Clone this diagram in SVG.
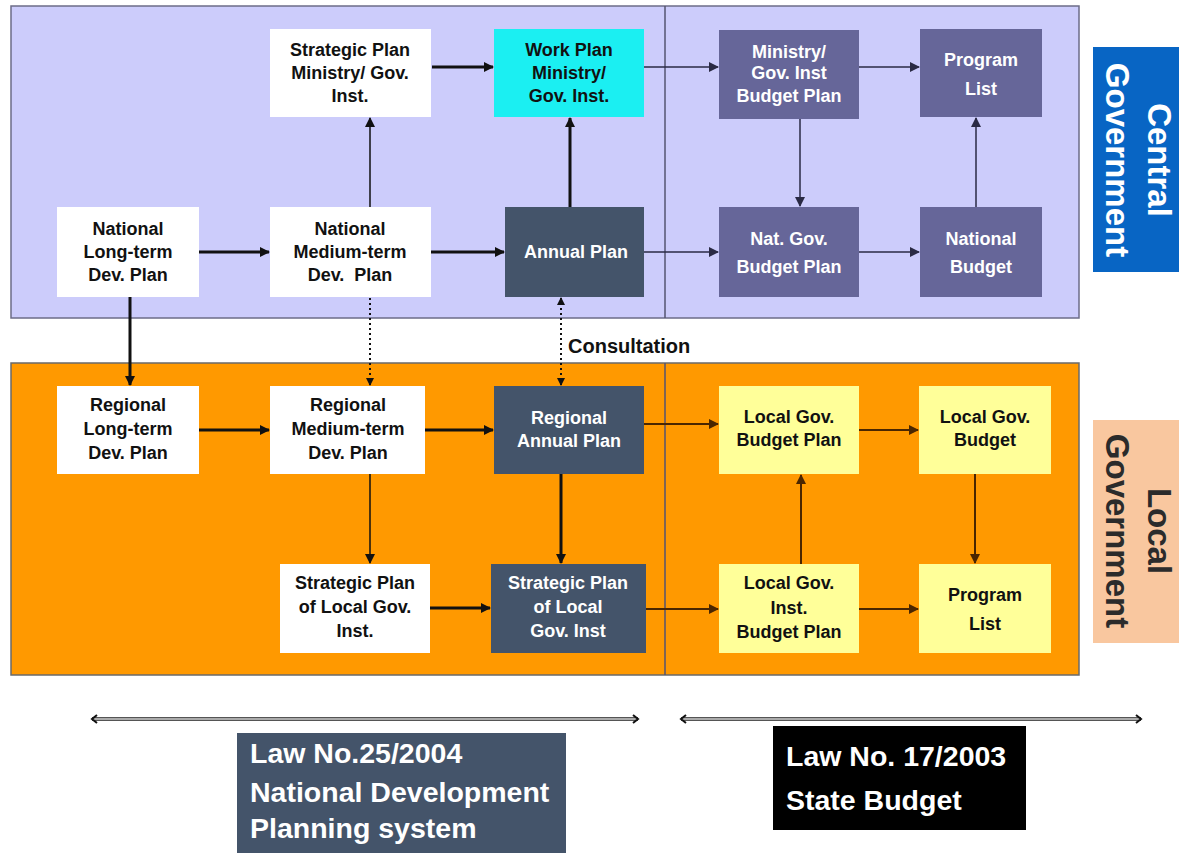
<svg xmlns="http://www.w3.org/2000/svg" width="1179" height="853" viewBox="0 0 1179 853">
  <defs>
    <style>
      .t { font-family: "Liberation Sans", Arial, sans-serif; font-weight: bold; font-size: 18px; text-anchor: middle; }
      .dk { fill: #111; }
      .wt { fill: #ffffff; }
      .big { font-family: "Liberation Sans", Arial, sans-serif; font-weight: bold; font-size: 28.5px; fill: #ffffff; }
      .side { font-family: "Liberation Sans", Arial, sans-serif; font-weight: bold; font-size: 33px; text-anchor: middle; }
      .c-thick { stroke: #111; stroke-width: 3; fill: none; }
      .c-thin { stroke: #111; stroke-width: 1.5; fill: none; }
      .c-top { stroke: #2a2a44; stroke-width: 1.5; fill: none; }
      .c-bot { stroke: #4a2600; stroke-width: 2; fill: none; }
      .c-dot { stroke: #111; stroke-width: 2; stroke-dasharray: 2 3; fill: none; }
    </style>
    <marker id="ah" markerUnits="userSpaceOnUse" markerWidth="10" markerHeight="10" refX="9" refY="5" orient="auto">
      <path d="M0,0 L10,5 L0,10 z" fill="#111"/>
    </marker>
    <marker id="ahTop" markerUnits="userSpaceOnUse" markerWidth="10" markerHeight="10" refX="9" refY="5" orient="auto">
      <path d="M0,0 L10,5 L0,10 z" fill="#2a2a44"/>
    </marker>
    <marker id="ahBot" markerUnits="userSpaceOnUse" markerWidth="10" markerHeight="10" refX="9" refY="5" orient="auto">
      <path d="M0,0 L10,5 L0,10 z" fill="#4a2600"/>
    </marker>
    <marker id="ahDot" markerUnits="userSpaceOnUse" markerWidth="8" markerHeight="8" refX="7" refY="4" orient="auto-start-reverse">
      <path d="M0,0 L8,4 L0,8 z" fill="#111"/>
    </marker>
    <marker id="chev" markerUnits="userSpaceOnUse" markerWidth="8" markerHeight="10" refX="6" refY="5" orient="auto-start-reverse">
      <path d="M1,1 L6,5 L1,9" fill="none" stroke="#111" stroke-width="2"/>
    </marker>
  </defs>

  <rect width="1179" height="853" fill="#ffffff"/>

  <!-- tier panels -->
  <g id="central-panel">
    <rect x="11" y="6" width="1068" height="312" fill="#ccccfb" stroke="#6c6c88" stroke-width="1.5"/>
    <line x1="665" y1="6" x2="665" y2="318" stroke="#555570" stroke-width="1.5"/>
  </g>
  <g id="local-panel">
    <rect x="11" y="363" width="1068" height="312" fill="#ff9900" stroke="#6a6a6a" stroke-width="1.5"/>
    <line x1="665" y1="363" x2="665" y2="675" stroke="#555570" stroke-width="1.5"/>
  </g>

  <!-- side labels -->
  <g id="label-central">
    <rect x="1093" y="47" width="86" height="225" fill="#0865c4"/>
    <g transform="translate(1136,160) rotate(90)">
      <text class="side wt" x="0" y="-12">Central</text>
      <text class="side wt" x="0" y="30">Government</text>
    </g>
  </g>
  <g id="label-local">
    <rect x="1093" y="420" width="86" height="223" fill="#f9c79f"/>
    <g transform="translate(1136,531) rotate(90)">
      <text class="side" fill="#2b2b2b" x="0" y="-12">Local</text>
      <text class="side" fill="#2b2b2b" x="0" y="30">Government</text>
    </g>
  </g>

  <!-- central government nodes -->
  <g id="strategic-plan-ministry">
    <rect x="270" y="29" width="161" height="88" fill="#ffffff"/>
    <text class="t dk" x="350" y="56">Strategic Plan</text>
    <text class="t dk" x="350" y="79">Ministry/ Gov.</text>
    <text class="t dk" x="350" y="102">Inst.</text>
  </g>
  <g id="work-plan">
    <rect x="494" y="29" width="150" height="88" fill="#1beff2"/>
    <text class="t dk" x="569" y="56">Work Plan</text>
    <text class="t dk" x="569" y="79">Ministry/</text>
    <text class="t dk" x="569" y="102">Gov. Inst.</text>
  </g>
  <g id="national-long-term">
    <rect x="57" y="207" width="142" height="90" fill="#ffffff"/>
    <text class="t dk" x="128" y="235">National</text>
    <text class="t dk" x="128" y="258">Long-term</text>
    <text class="t dk" x="128" y="281">Dev. Plan</text>
  </g>
  <g id="national-medium-term">
    <rect x="270" y="207" width="161" height="90" fill="#ffffff"/>
    <text class="t dk" x="350" y="235">National</text>
    <text class="t dk" x="350" y="258">Medium-term</text>
    <text class="t dk" x="350" y="281" xml:space="preserve">Dev.  Plan</text>
  </g>
  <g id="annual-plan">
    <rect x="505" y="207" width="139" height="90" fill="#44546a"/>
    <text class="t wt" x="576" y="258">Annual Plan</text>
  </g>
  <g id="ministry-budget-plan">
    <rect x="719" y="30" width="140" height="89" fill="#666699"/>
    <text class="t wt" x="789" y="58">Ministry/</text>
    <text class="t wt" x="789" y="79">Gov. Inst</text>
    <text class="t wt" x="789" y="102">Budget Plan</text>
  </g>
  <g id="program-list-central">
    <rect x="920" y="29" width="122" height="88" fill="#666699"/>
    <text class="t wt" x="981" y="66">Program</text>
    <text class="t wt" x="981" y="95">List</text>
  </g>
  <g id="nat-gov-budget-plan">
    <rect x="719" y="207" width="140" height="90" fill="#666699"/>
    <text class="t wt" x="789" y="245">Nat. Gov.</text>
    <text class="t wt" x="789" y="273">Budget Plan</text>
  </g>
  <g id="national-budget">
    <rect x="920" y="207" width="122" height="90" fill="#666699"/>
    <text class="t wt" x="981" y="245">National</text>
    <text class="t wt" x="981" y="273">Budget</text>
  </g>

  <!-- local government nodes -->
  <g id="regional-long-term">
    <rect x="57" y="386" width="142" height="88" fill="#ffffff"/>
    <text class="t dk" x="128" y="411">Regional</text>
    <text class="t dk" x="128" y="435">Long-term</text>
    <text class="t dk" x="128" y="459">Dev. Plan</text>
  </g>
  <g id="regional-medium-term">
    <rect x="270" y="386" width="155" height="88" fill="#ffffff"/>
    <text class="t dk" x="348" y="411">Regional</text>
    <text class="t dk" x="348" y="435">Medium-term</text>
    <text class="t dk" x="348" y="459">Dev. Plan</text>
  </g>
  <g id="regional-annual-plan">
    <rect x="494" y="386" width="150" height="88" fill="#44546a"/>
    <text class="t wt" x="569" y="424">Regional</text>
    <text class="t wt" x="569" y="447">Annual Plan</text>
  </g>
  <g id="strategic-plan-local-inst">
    <rect x="280" y="564" width="150" height="89" fill="#ffffff"/>
    <text class="t dk" x="355" y="589">Strategic Plan</text>
    <text class="t dk" x="355" y="613">of Local Gov.</text>
    <text class="t dk" x="355" y="637">Inst.</text>
  </g>
  <g id="strategic-plan-local-gov">
    <rect x="491" y="564" width="155" height="89" fill="#44546a"/>
    <text class="t wt" x="568" y="589">Strategic Plan</text>
    <text class="t wt" x="568" y="613">of Local</text>
    <text class="t wt" x="568" y="637">Gov. Inst</text>
  </g>
  <g id="local-gov-budget-plan">
    <rect x="719" y="386" width="140" height="88" fill="#ffff99"/>
    <text class="t dk" x="789" y="423">Local Gov.</text>
    <text class="t dk" x="789" y="446">Budget Plan</text>
  </g>
  <g id="local-gov-budget">
    <rect x="919" y="386" width="132" height="88" fill="#ffff99"/>
    <text class="t dk" x="985" y="423">Local Gov.</text>
    <text class="t dk" x="985" y="446">Budget</text>
  </g>
  <g id="local-inst-budget-plan">
    <rect x="719" y="564" width="140" height="89" fill="#ffff99"/>
    <text class="t dk" x="789" y="589">Local Gov.</text>
    <text class="t dk" x="789" y="614">Inst.</text>
    <text class="t dk" x="789" y="638">Budget Plan</text>
  </g>
  <g id="program-list-local">
    <rect x="919" y="564" width="132" height="89" fill="#ffff99"/>
    <text class="t dk" x="985" y="601">Program</text>
    <text class="t dk" x="985" y="630">List</text>
  </g>

  <!-- connectors -->
  <g id="connectors">
    <!-- central planning -->
    <line class="c-thick" x1="432" y1="67" x2="493" y2="67" marker-end="url(#ah)"/>
    <line class="c-thick" x1="199" y1="252" x2="269" y2="252" marker-end="url(#ah)"/>
    <line class="c-thick" x1="431" y1="252" x2="504" y2="252" marker-end="url(#ah)"/>
    <line class="c-thin" x1="370" y1="207" x2="370" y2="118" marker-end="url(#ah)"/>
    <line class="c-thick" x1="570" y1="207" x2="570" y2="118" marker-end="url(#ah)"/>
    <!-- central budgeting -->
    <line class="c-top" x1="644" y1="67" x2="718" y2="67" marker-end="url(#ahTop)"/>
    <line class="c-top" x1="859" y1="67" x2="919" y2="67" marker-end="url(#ahTop)"/>
    <line class="c-top" x1="800" y1="119" x2="800" y2="206" marker-end="url(#ahTop)"/>
    <line class="c-top" x1="976" y1="207" x2="976" y2="118" marker-end="url(#ahTop)"/>
    <line class="c-top" x1="644" y1="252" x2="718" y2="252" marker-end="url(#ahTop)"/>
    <line class="c-top" x1="859" y1="252" x2="919" y2="252" marker-end="url(#ahTop)"/>
    <!-- central to local -->
    <line class="c-thick" x1="130" y1="297" x2="130" y2="385" marker-end="url(#ah)"/>
    <line class="c-dot" x1="370" y1="298" x2="370" y2="385" marker-end="url(#ahDot)"/>
    <line class="c-dot" x1="561" y1="298" x2="561" y2="385" marker-start="url(#ahDot)" marker-end="url(#ahDot)"/>
    <!-- local planning -->
    <line class="c-thick" x1="199" y1="430" x2="269" y2="430" marker-end="url(#ah)"/>
    <line class="c-thick" x1="425" y1="430" x2="493" y2="430" marker-end="url(#ah)"/>
    <line class="c-thin" x1="370" y1="474" x2="370" y2="563" marker-end="url(#ah)"/>
    <line class="c-thick" x1="561" y1="474" x2="561" y2="563" marker-end="url(#ah)"/>
    <line class="c-thick" x1="430" y1="608" x2="490" y2="608" marker-end="url(#ah)"/>
    <!-- local budgeting -->
    <line class="c-bot" x1="644" y1="424" x2="718" y2="424" marker-end="url(#ahBot)"/>
    <line class="c-bot" x1="859" y1="430" x2="918" y2="430" marker-end="url(#ahBot)"/>
    <line class="c-bot" x1="975" y1="474" x2="975" y2="563" marker-end="url(#ahBot)"/>
    <line class="c-bot" x1="801" y1="564" x2="801" y2="475" marker-end="url(#ahBot)"/>
    <line class="c-bot" x1="646" y1="609" x2="718" y2="609" marker-end="url(#ahBot)"/>
    <line class="c-bot" x1="859" y1="609" x2="918" y2="609" marker-end="url(#ahBot)"/>
    <!-- scope spans -->
    <line x1="92" y1="719" x2="638" y2="719" stroke="#555" stroke-width="4"/>
    <line x1="92" y1="719" x2="638" y2="719" stroke="#c8c8c8" stroke-width="1.5" marker-start="url(#chev)" marker-end="url(#chev)"/>
    <line x1="681" y1="719" x2="1141" y2="719" stroke="#555" stroke-width="4"/>
    <line x1="681" y1="719" x2="1141" y2="719" stroke="#c8c8c8" stroke-width="1.5" marker-start="url(#chev)" marker-end="url(#chev)"/>
  </g>

  <text class="t dk" x="568" y="353" style="text-anchor:start;font-size:20px">Consultation</text>

  <!-- legal basis boxes -->
  <g id="law-planning">
    <rect x="237" y="733" width="329" height="120" fill="#44546a"/>
    <text class="big" x="250" y="763">Law No.25/2004</text>
    <text class="big" x="250" y="802">National Development</text>
    <text class="big" x="250" y="838">Planning system</text>
  </g>
  <g id="law-budget">
    <rect x="773" y="726" width="253" height="104" fill="#000000"/>
    <text class="big" x="786" y="766">Law No. 17/2003</text>
    <text class="big" x="786" y="810">State Budget</text>
  </g>
</svg>
